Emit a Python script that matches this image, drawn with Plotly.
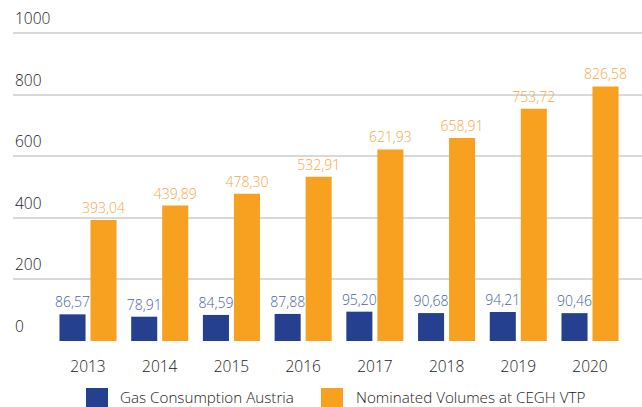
import plotly.graph_objects as go

years = ["2013", "2014", "2015", "2016", "2017", "2018", "2019", "2020"]
gas_consumption = [86.57, 78.91, 84.59, 87.88, 95.20, 90.68, 94.21, 90.46]
nominated_volumes = [393.04, 439.89, 478.30, 532.91, 621.93, 658.91, 753.72, 826.58]
series_names = ["Gas Consumption Austria", "Nominated Volumes at CEGH VTP"]
y_ticks = [0, 200, 400, 600, 800, 1000]

NAVY = "#24408e"
ORANGE = "#f8a01f"
NAVY_TXT = "#4b5fa8"
ORANGE_TXT = "#f6a845"
TXT = "#1a1a1a"
FONT = "Open Sans"
WEIGHT = 300

fig = go.Figure()
fig.add_trace(go.Bar(
    x=years, y=gas_consumption, name=series_names[0],
    marker=dict(color=NAVY, line=dict(width=0)),
    texttemplate="%{y:.2f}", textposition="outside", cliponaxis=False,
    constraintext="none", textangle=0,
    textfont=dict(color=NAVY_TXT, size=14, family=FONT, weight=WEIGHT),
))
fig.add_trace(go.Bar(
    x=years, y=nominated_volumes, name=series_names[1],
    marker=dict(color=ORANGE, line=dict(width=0)),
    texttemplate="%{y:.2f}", textposition="outside", cliponaxis=False,
    constraintext="none", textangle=0,
    textfont=dict(color=ORANGE_TXT, size=14, family=FONT, weight=WEIGHT),
))

L, T, B = 13, 28, 66
W, H = 642, 407
pw, ph = W - L, H - T - B
y_top = ph / 0.308

def px_x(p):
    return (p - L) / pw

def px_y(p):
    return (H - B - p) / ph

# y tick labels, left aligned above each gridline
for v in y_ticks:
    fig.add_annotation(xref="paper", yref="y", x=0, y=v, text=str(v),
                       showarrow=False, xanchor="left", yanchor="bottom",
                       yshift=2, font=dict(size=15.5, color=TXT, family=FONT, weight=WEIGHT))

# manual legend
legend_items = [(86, 118, NAVY), (321, 354, ORANGE)]
for (sx, tx, col), name in zip(legend_items, series_names):
    fig.add_shape(type="rect", xref="paper", yref="paper",
                  x0=px_x(sx), x1=px_x(sx + 22), y0=px_y(388), y1=px_y(410),
                  fillcolor=col, line=dict(width=0))
    fig.add_annotation(xref="paper", yref="paper", x=px_x(tx), y=px_y(396.5),
                       text=name, showarrow=False, xanchor="left", yanchor="middle",
                       font=dict(size=15.2, color=TXT, family=FONT, weight=WEIGHT))

fig.update_layout(
    width=W, height=H,
    margin=dict(l=L, r=0, t=T, b=B, autoexpand=False),
    paper_bgcolor="white", plot_bgcolor="white",
    barmode="group", bargap=0.135, bargroupgap=0.16,
    separators=",.",
    showlegend=False,
    font=dict(family=FONT, color=TXT, size=15, weight=WEIGHT),
    xaxis=dict(type="category", range=[-1.046, 7.725], showgrid=False,
               zeroline=False, showline=False, ticks="", automargin=False,
               ticklabelstandoff=14,
               tickfont=dict(size=15.5, color=TXT, family=FONT, weight=WEIGHT)),
    yaxis=dict(range=[0, y_top], tickvals=y_ticks, showgrid=True,
               gridcolor="#d9d9d9", gridwidth=2, zeroline=False, showline=False,
               showticklabels=False, ticks="", automargin=False),
)

fig.write_html("out.html", config={"displayModeBar": False},
               post_script="document.body.style.margin='0';")
